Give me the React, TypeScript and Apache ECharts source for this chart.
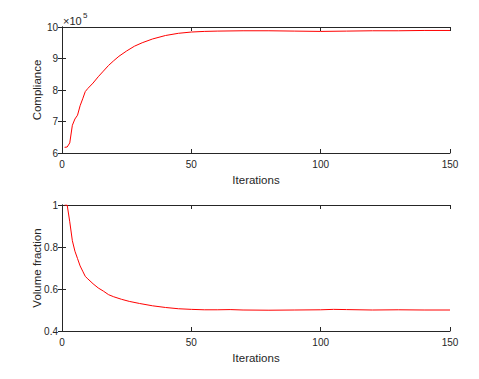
import React, { useEffect, useRef } from "react";
import * as echarts from "echarts";

const complianceIter = [1, 2, 3, 4, 5, 6, 7, 8, 9, 10, 12, 14, 16, 18, 20, 22, 25, 28, 31, 35, 40, 45, 50, 55, 60, 70, 80, 90, 100, 110, 120, 130, 140, 150];
const complianceVals = [6.18, 6.19, 6.32, 6.88, 7.08, 7.2, 7.5, 7.72, 7.95, 8.05, 8.22, 8.42, 8.6, 8.78, 8.93, 9.07, 9.24, 9.39, 9.5, 9.62, 9.73, 9.8, 9.84, 9.86, 9.87, 9.88, 9.88, 9.87, 9.86, 9.87, 9.88, 9.88, 9.89, 9.89];

const volumeIter = [1, 2, 3, 4, 5, 6, 7, 8, 9, 10, 12, 14, 16, 18, 20, 23, 26, 30, 35, 40, 45, 50, 55, 60, 65, 70, 80, 90, 100, 105, 110, 120, 130, 140, 150];
const volumeVals = [1.0, 1.0, 0.92, 0.83, 0.78, 0.745, 0.71, 0.685, 0.66, 0.648, 0.625, 0.605, 0.59, 0.573, 0.563, 0.551, 0.541, 0.531, 0.52, 0.512, 0.506, 0.503, 0.501, 0.501, 0.502, 0.5, 0.499, 0.5, 0.501, 0.503, 0.502, 0.5, 0.501, 0.5, 0.5];

const AX = "#262626";
const FONT = "Liberation Sans, Arial, Helvetica, sans-serif";

export default function App() {
  const ref = useRef<HTMLDivElement>(null);
  useEffect(() => {
    if (!ref.current) return;
    const chart = echarts.init(ref.current, undefined, { renderer: "svg" });
    const tick = { show: true, inside: true, length: 4, lineStyle: { color: AX, width: 1 } };
    const line = { show: true, lineStyle: { color: AX, width: 1 } };
    const mkX = (grid: number, pos: "bottom" | "top", labels: boolean) => ({
      type: "value",
      gridIndex: grid,
      position: pos,
      min: 0,
      max: 150,
      interval: 50,
      axisLine: line,
      axisTick: tick,
      splitLine: { show: false },
      axisLabel: { show: labels, color: AX, fontSize: 10, fontFamily: FONT, margin: 6 },
      name: labels ? "Iterations" : "",
      nameLocation: "middle",
      nameGap: 21,
      nameMoveOverlap: false,
      nameTextStyle: { color: AX, fontSize: 11.5, fontFamily: FONT },
    });
    const mkY = (grid: number, pos: "left" | "right", labels: boolean, min: number, max: number, interval: number, name: string, fmt?: (v: number) => string) => ({
      type: "value",
      gridIndex: grid,
      position: pos,
      min,
      max,
      interval,
      axisLine: line,
      axisTick: tick,
      splitLine: { show: false },
      axisLabel: { show: labels, color: AX, fontSize: 10, fontFamily: FONT, margin: 4, formatter: fmt },
      name: labels ? name : "",
      nameLocation: "middle",
      nameGap: 19,
      nameMoveOverlap: false,
      nameTextStyle: { color: AX, fontSize: 11.5, fontFamily: FONT },
    });
    chart.setOption({
      animation: false,
      backgroundColor: "#ffffff",
      grid: [
        { left: 62, top: 27, width: 388, height: 126 },
        { left: 62, top: 205, width: 388, height: 126 },
      ],
      xAxis: [mkX(0, "bottom", true), mkX(0, "top", false), mkX(1, "bottom", true), mkX(1, "top", false)],
      yAxis: [
        mkY(0, "left", true, 6, 10, 1, "Compliance"),
        mkY(0, "right", false, 6, 10, 1, ""),
        mkY(1, "left", true, 0.4, 1, 0.2, "Volume fraction", (v: number) => (v === 1 ? "1" : String(Math.round(v * 10) / 10))),
        mkY(1, "right", false, 0.4, 1, 0.2, ""),
      ],
      graphic: [
        { type: "text", left: 63, top: 15, style: { text: "×10", fontSize: 11, fontFamily: FONT, fill: AX } },
        { type: "text", left: 83, top: 11, style: { text: "5", fontSize: 8, fontFamily: FONT, fill: AX } },
      ],
      series: [
        {
          type: "line",
          xAxisIndex: 0,
          yAxisIndex: 0,
          data: complianceIter.map((x, i) => [x, complianceVals[i]]),
          showSymbol: false,
          lineStyle: { color: "#ff0000", width: 1 },
          itemStyle: { color: "#ff0000" },
        },
        {
          type: "line",
          xAxisIndex: 2,
          yAxisIndex: 2,
          data: volumeIter.map((x, i) => [x, volumeVals[i]]),
          showSymbol: false,
          lineStyle: { color: "#ff0000", width: 1 },
          itemStyle: { color: "#ff0000" },
        },
      ],
    });
    return () => chart.dispose();
  }, []);
  return <div ref={ref} style={{ width: 479, height: 379, position: "absolute", left: 0, top: 0 }} />;
}
